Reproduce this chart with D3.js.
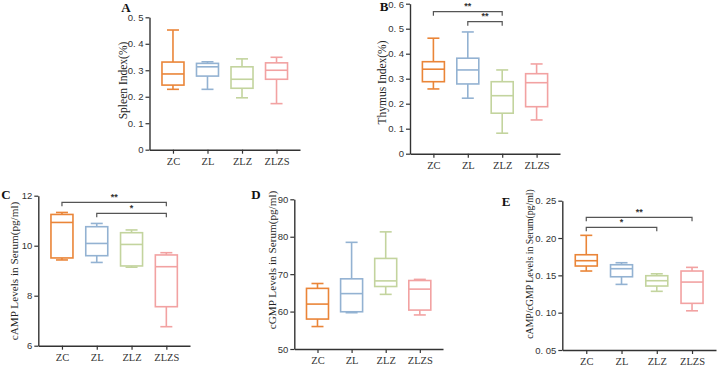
<!DOCTYPE html>
<html lang="en">
<head>
  <meta charset="UTF-8" />
  <title>Box plots: organ indices and cAMP/cGMP</title>
  <script src="https://d3js.org/d3.v7.min.js"></script>
  <style>
    body { margin: 0; background: #fff; }
    svg { display: block; }
    .tick-label { font-family: "Liberation Sans", Arial, sans-serif; font-size: 9.5px; fill: #333; }
    .cat-label { font-family: "Liberation Serif", "Times New Roman", serif; font-size: 10.5px; fill: #333; }
    .y-title { font-family: "Liberation Serif", "Times New Roman", serif; fill: #222; }
    .panel-letter { font-family: "Liberation Serif", "Times New Roman", serif; font-size: 13px; font-weight: bold; fill: #111; }
    .sig { font-family: "Liberation Sans", Arial, sans-serif; font-size: 9px; font-weight: bold; fill: #333; }
  </style>
</head>
<body>
<svg width="717" height="366"></svg>
<script>
// groups
const groups = ["ZC", "ZL", "ZLZ", "ZLZS"];
const colors = ["#EA8538", "#93B2D2", "#C3D49E", "#F2A2A2"];

// box stats per group: [min, q1, median, q3, max]
const spleenStats = [
  [0.228, 0.244, 0.286, 0.331, 0.452],
  [0.228, 0.278, 0.313, 0.326, 0.332],
  [0.196, 0.232, 0.266, 0.313, 0.343],
  [0.174, 0.266, 0.300, 0.328, 0.349]
];
const thymusStats = [
  [0.259, 0.288, 0.338, 0.368, 0.462],
  [0.222, 0.279, 0.335, 0.382, 0.487],
  [0.082, 0.162, 0.232, 0.288, 0.335],
  [0.135, 0.188, 0.284, 0.320, 0.359]
];
const campStats = [
  [9.43, 9.51, 10.93, 11.25, 11.33],
  [9.33, 9.60, 10.09, 10.76, 10.89],
  [9.14, 9.19, 10.05, 10.52, 10.63],
  [6.76, 7.56, 9.16, 9.63, 9.72]
];
const cgmpStats = [
  [56.0, 58.0, 62.0, 66.2, 67.5],
  [59.7, 59.95, 64.8, 68.75, 78.5],
  [64.6, 66.7, 68.2, 74.2, 81.3],
  [59.1, 60.4, 66.0, 68.3, 68.6]
];
const ratioStats = [
  [0.1558, 0.1625, 0.1696, 0.1776, 0.2036],
  [0.1379, 0.1481, 0.1589, 0.1642, 0.1669],
  [0.1286, 0.1357, 0.1428, 0.1495, 0.1521],
  [0.1025, 0.1125, 0.1410, 0.1558, 0.1607]
];

// tick values and labels
const spleenTicks = [0, 0.1, 0.2, 0.3, 0.4, 0.5];
const spleenTickLabels = ["0", "0. 1", "0. 2", "0. 3", "0. 4", "0. 5"];
const thymusTicks = [0, 0.1, 0.2, 0.3, 0.4, 0.5, 0.6];
const thymusTickLabels = ["0", "0. 1", "0. 2", "0. 3", "0. 4", "0. 5", "0. 6"];
const campTicks = [6, 8, 10, 12];
const campTickLabels = ["6", "8", "10", "12"];
const cgmpTicks = [50, 60, 70, 80, 90];
const cgmpTickLabels = ["50", "60", "70", "80", "90"];
const ratioTicks = [0.05, 0.10, 0.15, 0.20, 0.25];
const ratioTickLabels = ["0. 05", "0. 10", "0. 15", "0. 20", "0. 25"];

// significance brackets: [from group, to group, label]
const thymusSig = [["ZC", "ZLZ", "**"], ["ZL", "ZLZ", "**"]];
const campSig = [["ZC", "ZLZS", "**"], ["ZL", "ZLZS", "*"]];
const ratioSig = [["ZC", "ZLZS", "**"], ["ZC", "ZLZ", "*"]];

const svg = d3.select("svg");

function drawPanel(p) {
  const g = svg.append("g");

  const x = d3.scalePoint().domain(groups).range([p.x0, p.x1]).padding(0.68);
  const y = d3.scaleLinear().domain(p.domain).range([p.y0, p.y1]);

  // y axis
  const yAxis = g.append("g")
    .attr("transform", `translate(${p.x0},0)`)
    .call(d3.axisLeft(y).tickValues(p.ticks).tickFormat((d, i) => p.tickLabels[i]).tickSize(4).tickSizeOuter(0));
  yAxis.select(".domain").attr("stroke", "#333").attr("stroke-width", 1.4);
  yAxis.selectAll(".tick line").attr("stroke", "#333").attr("stroke-width", 1.2);
  yAxis.selectAll(".tick text").attr("class", "tick-label").attr("x", -6)
    .attr("dy", d => y(d) < 6 ? "0.45em" : "0.32em")   // keep top label inside the page
    .attr("font-family", null).attr("font-size", null);

  // x axis
  const xAxis = g.append("g")
    .attr("transform", `translate(0,${p.y0})`)
    .call(d3.axisBottom(x).tickSize(4).tickSizeOuter(0));
  xAxis.select(".domain").attr("stroke", "#333").attr("stroke-width", 1.4);
  xAxis.selectAll(".tick line").attr("stroke", "#333").attr("stroke-width", 1.2);
  xAxis.selectAll(".tick text").attr("class", "cat-label").attr("y", 8).attr("dy", "0.71em")
    .attr("font-family", null).attr("font-size", null);

  // boxes
  const boxW = 22, capW = 12;
  const box = g.selectAll(".box")
    .data(p.stats)
    .enter().append("g")
    .attr("class", "box")
    .attr("stroke", (d, i) => colors[i])
    .attr("stroke-width", 1.6)
    .attr("fill", "none");

  const cx = (d, i) => x(groups[i]);
  box.append("line").attr("x1", cx).attr("x2", cx)
    .attr("y1", d => y(d[0])).attr("y2", d => y(d[1]));
  box.append("line").attr("x1", cx).attr("x2", cx)
    .attr("y1", d => y(d[3])).attr("y2", d => y(d[4]));
  box.append("line").attr("x1", (d, i) => cx(d, i) - capW / 2).attr("x2", (d, i) => cx(d, i) + capW / 2)
    .attr("y1", d => y(d[0])).attr("y2", d => y(d[0]));
  box.append("line").attr("x1", (d, i) => cx(d, i) - capW / 2).attr("x2", (d, i) => cx(d, i) + capW / 2)
    .attr("y1", d => y(d[4])).attr("y2", d => y(d[4]));
  box.append("rect")
    .attr("x", (d, i) => cx(d, i) - boxW / 2)
    .attr("width", boxW)
    .attr("y", d => y(d[3]))
    .attr("height", d => y(d[1]) - y(d[3]));
  box.append("line").attr("x1", (d, i) => cx(d, i) - boxW / 2).attr("x2", (d, i) => cx(d, i) + boxW / 2)
    .attr("y1", d => y(d[2])).attr("y2", d => y(d[2]));

  // significance brackets
  (p.sig || []).forEach((s, k) => {
    const yy = p.sigY[k];
    const xa = x(s[0]), xb = x(s[1]);
    g.append("path")
      .attr("d", `M${xa},${yy + 4}V${yy}H${xb}V${yy + 4}`)
      .attr("fill", "none")
      .attr("stroke", "#555")
      .attr("stroke-width", 1.2);
    g.append("text")
      .attr("class", "sig")
      .attr("x", (xa + xb) / 2)
      .attr("y", yy - 2.5)
      .attr("text-anchor", "middle")
      .text(s[2]);
  });

  // y title
  g.append("text")
    .attr("class", "y-title")
    .attr("transform", `translate(${p.titleX},${p.titleY}) rotate(-90)`)
    .attr("text-anchor", "middle")
    .attr("dy", "0.35em")
    .style("font-size", p.titleSize + "px")
    .text(p.title);

  // panel letter
  g.append("text")
    .attr("class", "panel-letter")
    .attr("x", p.letterX)
    .attr("y", p.letterY)
    .attr("text-anchor", "middle")
    .text(p.letter);
}

drawPanel({ letter: "A", letterX: 126, letterY: 12, title: "Spleen Index(%)", titleX: 123, titleY: 80.5, titleSize: 11.5,
  x0: 149.5, x1: 300, y0: 149.7, y1: 17.3, domain: [0, 0.5],
  ticks: spleenTicks, tickLabels: spleenTickLabels, stats: spleenStats });

drawPanel({ letter: "B", letterX: 384, letterY: 11, title: "Thymus Index(%)", titleX: 382, titleY: 82.5, titleSize: 11.5,
  x0: 410, x1: 560, y0: 153.7, y1: 3.7, domain: [0, 0.6],
  ticks: thymusTicks, tickLabels: thymusTickLabels, stats: thymusStats,
  sig: thymusSig, sigY: [11.7, 21.7] });

drawPanel({ letter: "C", letterX: 6, letterY: 199, title: "cAMP Levels in Serum(pg/ml)", titleX: 14, titleY: 271, titleSize: 11.2,
  x0: 38.3, x1: 190, y0: 345.7, y1: 195.7, domain: [6, 12],
  ticks: campTicks, tickLabels: campTickLabels, stats: campStats,
  sig: campSig, sigY: [202.3, 213.3] });

drawPanel({ letter: "D", letterX: 256, letterY: 199, title: "cGMP Levels in Serum(pg/ml)", titleX: 272, titleY: 260, titleSize: 11.2,
  x0: 294.3, x1: 443, y0: 349, y1: 199.3, domain: [50, 90],
  ticks: cgmpTicks, tickLabels: cgmpTickLabels, stats: cgmpStats });

drawPanel({ letter: "E", letterX: 506, letterY: 206, title: "cAMP/cGMP Levels in Serum(pg/ml)", titleX: 530, titleY: 264, titleSize: 9.8,
  x0: 562.3, x1: 716, y0: 350, y1: 200.7, domain: [0.05, 0.25],
  ticks: ratioTicks, tickLabels: ratioTickLabels, stats: ratioStats,
  sig: ratioSig, sigY: [217.3, 227.3] });
</script>
</body>
</html>
